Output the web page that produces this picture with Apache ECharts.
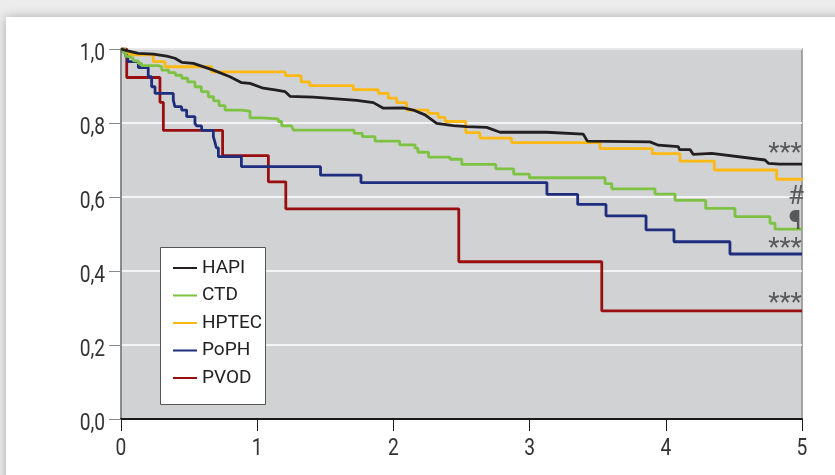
<!DOCTYPE html>
<html>
<head>
<meta charset="utf-8">
<script src="https://cdn.jsdelivr.net/npm/echarts@6/dist/echarts.min.js"></script>
<style>
  html, body { margin: 0; padding: 0; width: 835px; height: 475px; overflow: hidden; background: #ececec; }
  #card { position: absolute; left: 6px; top: 17px; width: 860px; height: 500px; background: #ffffff; box-shadow: 0 0 10px rgba(0,0,0,0.28); }
  #chart { position: absolute; left: 0; top: 0; width: 835px; height: 475px; }
</style>
</head>
<body>
<div id="card"></div>
<div id="chart"></div>
<script>
// ---- data (time in years, survival fraction) ----
const seriesNames = ['HAPI', 'CTD', 'HPTEC', 'PoPH', 'PVOD'];
const seriesColors = ['#231f20', '#7dc242', '#fdb913', '#1f2d7e', '#990f0f'];

const hapi = [[0,1],[0.05,0.995],[0.127,0.988],[0.237,0.986],[0.335,0.981],[0.396,0.975],[0.446,0.964],[0.531,0.961],[0.580,0.955],[0.678,0.943],[0.800,0.925],[0.886,0.909],[0.947,0.907],[1.045,0.894],[1.143,0.889],[1.204,0.885],[1.241,0.872],[1.412,0.870],[1.559,0.866],[1.730,0.861],[1.853,0.855],[1.926,0.840],[2.073,0.841],[2.146,0.835],[2.232,0.822],[2.318,0.799],[2.440,0.793],[2.538,0.790],[2.685,0.788],[2.783,0.775],[3.125,0.775],[3.394,0.770],[3.424,0.751],[3.884,0.749],[3.945,0.740],[4.092,0.736],[4.100,0.728],[4.178,0.728],[4.202,0.715],[4.337,0.718],[4.728,0.700],[4.753,0.691],[4.838,0.689],[5,0.689]];

const ctd = [[0,1],[0.02,0.99],[0.035,0.98],[0.054,0.975],[0.09,0.968],[0.127,0.961],[0.152,0.955],[0.274,0.952],[0.299,0.943],[0.35,0.936],[0.40,0.929],[0.446,0.921],[0.49,0.911],[0.543,0.898],[0.59,0.885],[0.641,0.871],[0.68,0.860],[0.72,0.847],[0.764,0.835],[0.886,0.832],[0.947,0.814],[1.033,0.811],[1.155,0.804],[1.18,0.792],[1.253,0.790],[1.265,0.781],[1.711,0.772],[1.772,0.763],[1.865,0.751],[2.046,0.741],[2.159,0.732],[2.18,0.721],[2.258,0.708],[2.416,0.702],[2.502,0.688],[2.752,0.676],[2.883,0.662],[2.998,0.652],[3.554,0.636],[3.603,0.622],[3.921,0.608],[4.068,0.591],[4.293,0.569],[4.508,0.547],[4.765,0.529],[4.802,0.513],[5,0.513]];

const hptec = [[0,1],[0.03,0.99],[0.066,0.984],[0.237,0.966],[0.323,0.952],[0.666,0.938],[1.207,0.928],[1.323,0.911],[1.386,0.901],[1.706,0.890],[1.889,0.880],[1.963,0.867],[2.024,0.855],[2.097,0.835],[2.256,0.826],[2.330,0.815],[2.379,0.804],[2.531,0.774],[2.636,0.759],[2.868,0.747],[3.517,0.731],[3.900,0.717],[4.104,0.697],[4.356,0.673],[4.814,0.648],[5,0.650]];

const poph = [[0,1],[0.02,0.99],[0.035,0.98],[0.05,0.966],[0.127,0.950],[0.20,0.925],[0.225,0.898],[0.25,0.880],[0.384,0.862],[0.396,0.844],[0.445,0.835],[0.482,0.817],[0.543,0.799],[0.556,0.792],[0.592,0.780],[0.678,0.763],[0.69,0.748],[0.70,0.733],[0.715,0.709],[0.884,0.682],[1.465,0.659],[1.762,0.639],[3.127,0.607],[3.353,0.580],[3.561,0.549],[3.855,0.511],[4.060,0.479],[4.471,0.446],[5,0.446]];

const pvod = [[0,1],[0.042,0.923],[0.286,0.856],[0.311,0.780],[0.746,0.712],[1.082,0.641],[1.210,0.568],[2.480,0.425],[3.530,0.292],[5,0.292]];

const xTicks = [0, 1, 2, 3, 4, 5];
const xTickLabels = ['0', '1', '2', '3', '4', '5'];
const yTicks = [0, 0.2, 0.4, 0.6, 0.8, 1.0];
const yTickLabels = ['0,0', '0,2', '0,4', '0,6', '0,8', '1,0'];

// significance marks placed at data coordinates [time, survival, text]
const annotations = [[4.875, 0.716, '***'], [4.956, 0.600, '#'], [4.949, 0.530, '¶'], [4.875, 0.459, '***'], [4.875, 0.309, '***']];

const FONT = 'Roboto, "Liberation Sans", sans-serif';
const NARROW = 0.8;   // horizontal squeeze to mimic the condensed typeface of the original

const chart = echarts.init(document.getElementById('chart'), null, { renderer: 'canvas' });

const lineSeries = [hapi, ctd, hptec, poph, pvod].map((d, i) => ({
  name: seriesNames[i],
  type: 'line',
  data: d,
  step: i === 0 ? false : 'end',
  symbol: 'none',
  lineStyle: { color: seriesColors[i], width: 2.8 },
  itemStyle: { color: seriesColors[i] },
  z: 10 - i,
  silent: true
}));

chart.setOption({
  animation: false,
  backgroundColor: 'transparent',
  grid: {
    left: 121, top: 49, right: 33, bottom: 56,
    show: true, backgroundColor: '#d1d2d4', borderColor: '#8c8c8c', borderWidth: 1.5
  },
  xAxis: {
    type: 'value', min: 0, max: 5, interval: 1,
    axisLine: { show: true, lineStyle: { color: '#1a1a1a', width: 2 } },
    axisTick: { show: true, length: 12, lineStyle: { color: '#1a1a1a', width: 1 } },
    splitLine: { show: false },
    axisLabel: { show: false }
  },
  yAxis: {
    type: 'value', min: 0, max: 1, interval: 0.2,
    axisLine: { show: true, lineStyle: { color: '#8a8a8a', width: 2 } },
    axisTick: { show: true, length: 12, lineStyle: { color: '#8a8a8a', width: 1 } },
    splitLine: { show: true, lineStyle: { color: '#ffffff', width: 1.5 } },
    axisLabel: { show: false }
  },
  legend: {
    orient: 'vertical', left: 173, top: 258, padding: 0,
    itemWidth: 24, itemHeight: 2, itemGap: 7.5, icon: 'rect',
    data: seriesNames,
    textStyle: { color: '#222', fontSize: 19, fontFamily: FONT, lineHeight: 20 },
    selectedMode: false
  },
  series: lineSeries.concat([{
    type: 'scatter', name: 'marks', silent: true,
    symbolSize: 0,
    data: annotations.map(a => ({ value: [a[0], a[1]], labelText: a[2] })),
    label: {
      show: true, position: 'inside', color: '#3a3a3a', fontSize: 26, fontFamily: FONT,
      formatter: (p) => p.data.labelText
    },
    z: 12
  }])
});

// tick labels placed with the axes' own scales, squeezed horizontally
const graphics = [{
  type: 'rect', z: 3,
  shape: { x: 160.5, y: 247.5, width: 105, height: 157 },
  style: { fill: '#ffffff', stroke: '#555555', lineWidth: 1 }
}];
yTicks.forEach((v, i) => {
  const py = chart.convertToPixel({ yAxisIndex: 0 }, v);
  graphics.push({
    type: 'text', z: 5, x: 105, y: py + 4.5, scaleX: NARROW,
    style: { text: yTickLabels[i], fill: '#333', fontSize: 24, fontFamily: FONT, align: 'right', verticalAlign: 'middle' }
  });
});
xTicks.forEach((v, i) => {
  const px = chart.convertToPixel({ xAxisIndex: 0 }, v);
  graphics.push({
    type: 'text', z: 5, x: px, y: 449, scaleX: NARROW,
    style: { text: xTickLabels[i], fill: '#333', fontSize: 24, fontFamily: FONT, align: 'center', verticalAlign: 'middle' }
  });
});
chart.setOption({ graphic: graphics });
</script>
</body>
</html>
